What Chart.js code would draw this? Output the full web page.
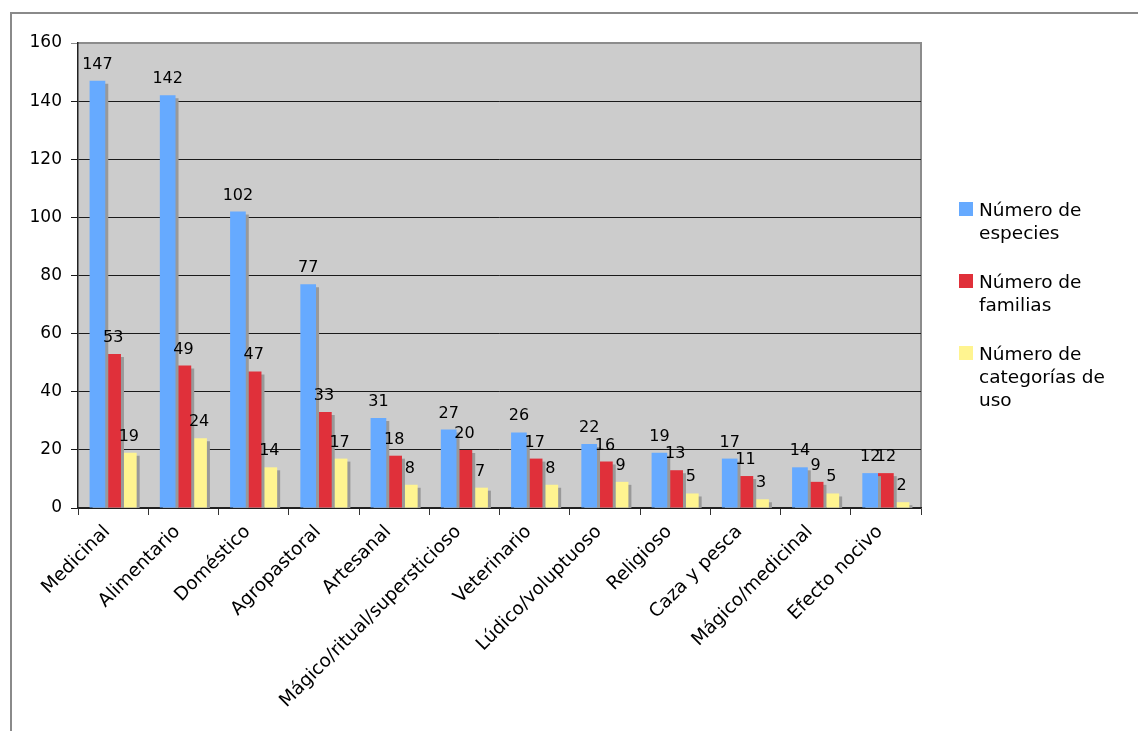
<!DOCTYPE html>
<html>
<head>
<meta charset="utf-8">
<script src="https://cdn.jsdelivr.net/npm/chart.js@4/dist/chart.umd.min.js"></script>
<style>
  html, body { margin: 0; padding: 0; background: #fff; }
  #wrap { position: relative; width: 1138px; height: 731px; overflow: hidden; }
  #frame { position: absolute; left: 10px; top: 12px; width: 1140px; height: 730px;
           border-top: 2px solid #8a8a8a; border-left: 2px solid #8a8a8a; }
  #chartBox { position: absolute; left: 0; top: 0; width: 1138px; height: 731px; }
  #legend { position: absolute; left: 959px; top: 198px; font-family: "DejaVu Sans", Verdana, sans-serif;
            font-size: 18.5px; color: #000; }
  .item { position: relative; height: 72px; padding-left: 20px; line-height: 23px; }
  .sw { position: absolute; left: 0; top: 4px; width: 14px; height: 14px; }
</style>
</head>
<body>
<div id="wrap">
  <div id="frame"></div>
  <div id="chartBox"><canvas id="barChart" width="1138" height="731"></canvas></div>
  <div id="legend"></div>
</div>
<script>
// Categorías de uso
var categorias = ['Medicinal', 'Alimentario', 'Doméstico', 'Agropastoral', 'Artesanal',
    'Mágico/ritual/supersticioso', 'Veterinario', 'Lúdico/voluptuoso', 'Religioso',
    'Caza y pesca', 'Mágico/medicinal', 'Efecto nocivo'];

// Series
var especies   = [147, 142, 102, 77, 31, 27, 26, 22, 19, 17, 14, 12];
var familias   = [53, 49, 47, 33, 18, 20, 17, 16, 13, 11, 9, 12];
var categUso   = [19, 24, 14, 17, 8, 7, 8, 9, 5, 3, 5, 2];

var nombresSeries = [['Número de', 'especies'], ['Número de', 'familias'], ['Número de', 'categorías de', 'uso']];
var colores = ['#66aaff', '#e0303a', '#fff490'];

var yTicks = [0, 20, 40, 60, 80, 100, 120, 140, 160];

var fuente = '"DejaVu Sans", Verdana, sans-serif';

// Plugin: fondo gris, sombra de barras y etiquetas de valor
var plotPlugin = {
    id: 'plotPlugin',
    beforeDraw: function(chart) {
        var a = chart.chartArea, ctx = chart.ctx;
        ctx.save();
        ctx.fillStyle = '#cccccc';
        ctx.fillRect(a.left, a.top, a.right - a.left, a.bottom - a.top);
        ctx.strokeStyle = '#8c8c8c';
        ctx.lineWidth = 2;
        ctx.beginPath();
        ctx.moveTo(a.left, a.top);
        ctx.lineTo(a.right, a.top);
        ctx.lineTo(a.right, a.bottom);
        ctx.stroke();
        ctx.restore();
    },
    beforeDatasetsDraw: function(chart) {
        var ctx = chart.ctx;
        ctx.save();
        ctx.shadowColor = '#999999';
        ctx.shadowOffsetX = 3;
        ctx.shadowOffsetY = 3;
        ctx.shadowBlur = 0;
    },
    afterDatasetsDraw: function(chart) {
        var ctx = chart.ctx;
        ctx.restore();
        ctx.save();
        ctx.font = '16px ' + fuente;
        ctx.fillStyle = '#000';
        ctx.textAlign = 'center';
        ctx.textBaseline = 'alphabetic';
        chart.data.datasets.forEach(function(ds, i) {
            var meta = chart.getDatasetMeta(i);
            meta.data.forEach(function(bar, j) {
                ctx.fillText(String(ds.data[j]), bar.x, bar.y - 12);
            });
        });
        ctx.restore();
    }
};

var ctx = document.getElementById('barChart').getContext('2d');
var myChart = new Chart(ctx, {
    type: 'bar',
    data: {
        labels: categorias,
        datasets: [especies, familias, categUso].map(function(serie, i) {
            return {
                label: nombresSeries[i].join(' '),
                data: serie,
                backgroundColor: colores[i],
                borderWidth: 0,
                categoryPercentage: 0.67,
                barPercentage: 1
            };
        })
    },
    options: {
        responsive: false,
        animation: false,
        layout: { padding: { top: 43, right: 217, left: 0, bottom: 0 } },
        plugins: {
            legend: { display: false },
            tooltip: { enabled: false }
        },
        scales: {
            x: {
                z: 1,
                offset: true,
                grid: { offset: true, drawOnChartArea: false, drawTicks: true, tickLength: 7, color: '#333', lineWidth: 1 },
                border: { color: '#222', width: 1.5 },
                ticks: { color: '#000', font: { family: fuente, size: 18.5 }, minRotation: 45, maxRotation: 45,
                         padding: 6, labelOffset: -6 },
                afterFit: function(scale) { scale.height = 223; }
            },
            y: {
                min: 0,
                max: 160,
                afterBuildTicks: function(scale) {
                    scale.ticks = yTicks.map(function(v) { return { value: v }; });
                },
                grid: {
                    color: function(c) { return c.tick && c.tick.value === 160 ? '#8c8c8c' : '#1a1a1a'; },
                    lineWidth: 1,
                    tickLength: 7
                },
                border: { color: '#222', width: 1.5 },
                ticks: { color: '#000', font: { family: fuente, size: 17 }, padding: 9 },
                afterFit: function(scale) { scale.width = 78; }
            }
        }
    },
    plugins: [plotPlugin]
});

// Leyenda HTML construida a partir de los datasets
var leyenda = document.getElementById('legend');
myChart.data.datasets.forEach(function(ds, i) {
    var div = document.createElement('div');
    div.className = 'item';
    var sw = document.createElement('span');
    sw.className = 'sw';
    sw.style.background = ds.backgroundColor;
    div.appendChild(sw);
    div.insertAdjacentHTML('beforeend', nombresSeries[i].join('<br>'));
    leyenda.appendChild(div);
});
</script>
</body>
</html>
